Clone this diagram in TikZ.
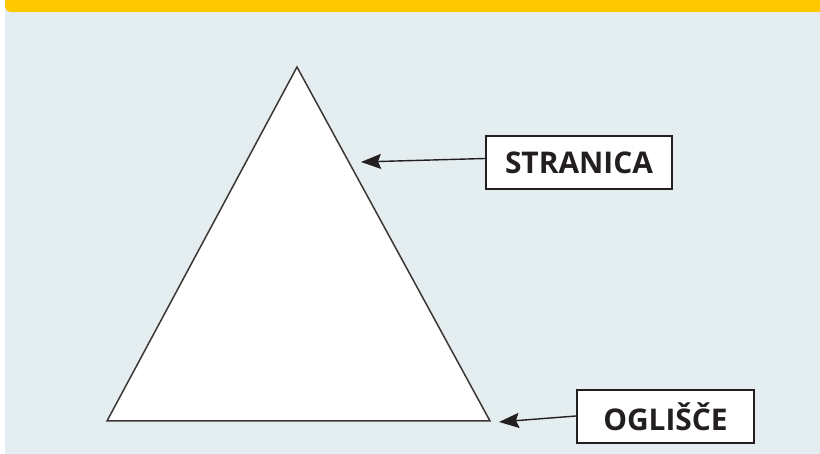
\documentclass[tikz,border=0pt]{standalone}
\usepackage{fontspec}
\setsansfont{Open Sans}
\usepackage{xcolor}
\usepackage{tikz}
\usetikzlibrary{arrows.meta, positioning, calc}
\definecolor{bandyellow}{RGB}{255, 200, 0}
\definecolor{panelgrey}{RGB}{228, 237, 239}
\definecolor{inkdark}{RGB}{35, 31, 32}
\definecolor{edgegrey}{RGB}{60, 54, 52}
\tikzset{
    labelbox/.style={rectangle, draw=inkdark, fill=white, line width=2.2bp, minimum height=53bp, text centered, font=\sffamily\bfseries\fontsize{30}{33}\selectfont, text=inkdark},
    trishape/.style={draw=edgegrey, fill=white, line width=1.5bp, line join=miter},
    arrow/.style={draw=inkdark, line width=1.4bp, -{Stealth[length=20bp, width=15bp, inset=3bp]}}
}
\begin{document}
\begin{tikzpicture}[x=1bp, y=1bp]
    % background and top band
    \useasboundingbox (0,0) rectangle (820,454);
    \fill[white] (0,0) rectangle (820,454);
    \fill[panelgrey] (5,0) rectangle (820,454);
    \fill[bandyellow] (820,454) -- (5,454) -- (5,448) arc[start angle=180, end angle=270, radius=6bp] -- (820,442) -- cycle;

    % triangle
    \coordinate (apex) at (297,387);
    \coordinate (left) at (107,33);
    \coordinate (right) at (490,33);
    \draw[trishape] (apex) -- (left) -- (right) -- cycle;

    % labels
    \node (stranica) [labelbox, minimum width=186bp] at (579,291.5) {STRANICA};
    \node (oglisce) [labelbox, minimum width=177bp] at (665.5,37.5) {OGLIŠČE};
    \coordinate (side) at (361,292);
    \coordinate (vertex) at (499,32);

    \draw [arrow] ([yshift=4bp]stranica.west) -- (side);
    \draw [arrow] ([yshift=0.5bp]oglisce.west) -- (vertex);
\end{tikzpicture}
\end{document}
